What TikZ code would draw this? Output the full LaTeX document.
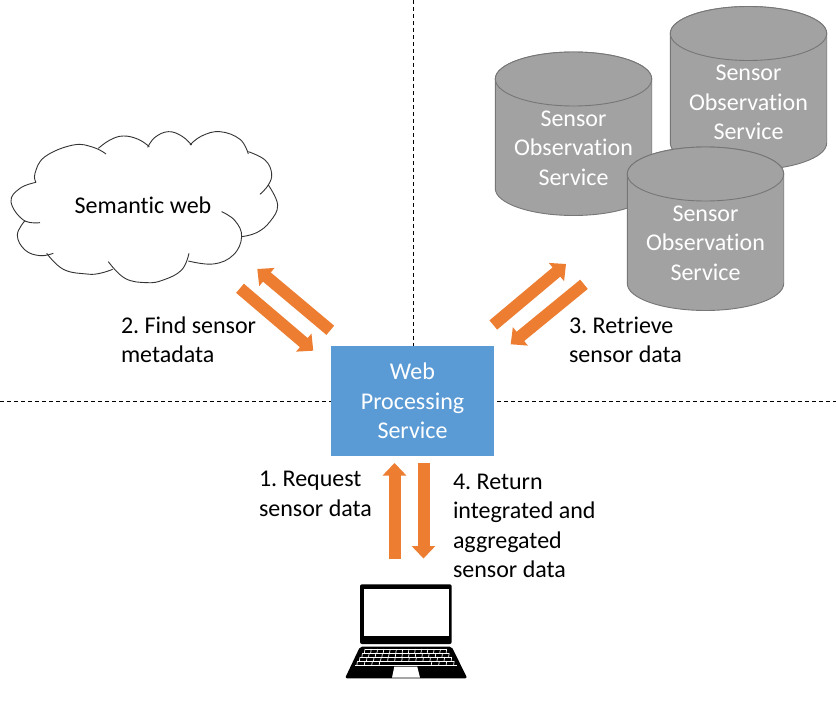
\documentclass[tikz,border=0pt]{standalone}
\usepackage{fontspec}
\setmainfont[Ligatures=NoCommon]{Carlito}
\usetikzlibrary{arrows.meta}
\definecolor{wpsblue}{HTML}{5B9BD5}
\definecolor{flow}{HTML}{ED7D31}
\definecolor{cangray}{HTML}{A2A2A2}
\definecolor{canedge}{HTML}{767676}
\tikzset{
  txt/.style={font=\frenchspacing\fontsize{24}{29.3}\selectfont,inner sep=0pt,outer sep=0pt},
  lbl/.style={txt,anchor=west,align=left},
  svccan/.style={draw=canedge,line width=0.9,fill=cangray},
  svctxt/.style={txt,text=white,align=center},
  wps/.style={txt,fill=wpsblue,text=white,align=center,minimum width=163,minimum height=110},
  flowarrow/.style={draw=flow,line width=12,-{Triangle[length=12.5,width=23,fill=flow]}},
  lobe/.style={line width=0.9,draw=black!80},
  divider/.style={line width=0.9,dash pattern=on 4 off 3}
}
\begin{document}
\begin{tikzpicture}[x=1pt,y=-1pt]
\useasboundingbox (0,0) rectangle (836,703);
\fill[white] (0,0) rectangle (836,703);
% dividers
\coordinate (vtop) at (413.5,0);
\coordinate (vend) at (413.5,346);
\coordinate (hleft) at (0,401.5);
\coordinate (hright) at (836,401.5);
\draw[divider] (vtop)--(vend);
\draw[divider] (hleft)--(hright);
% cloud
\begin{scope}[shift={(0,130)},x=0.3333pt,y=-0.3333pt]
\foreach \pts in {
  {(108,157) (105,130) (135,80) (220,45) (280,52) (318,72)},
  {(295,55) (330,30) (370,18) (415,28) (448,50)},
  {(443,52) (465,22) (505,5) (545,18) (575,45)},
  {(570,45) (605,18) (660,5) (720,28) (745,72)},
  {(745,65) (795,90) (815,130) (805,165) (780,193)},
  {(805,165) (833,225) (810,275) (770,308) (725,320)},
  {(665,245) (705,272) (725,320) (700,375) (640,402) (565,393)},
  {(567,370) (545,420) (490,450) (440,458) (375,445) (325,395)},
  {(338,418) (300,430) (260,432) (190,418) (140,370)},
  {(160,370) (120,377) (75,360) (52,315) (75,272)},
  {(120,278) (70,270) (33,215) (60,175) (108,157)}}
  \draw[lobe] plot[smooth,tension=0.7] coordinates \pts;
\end{scope}
\node[txt] (web) at (143,205) {Semantic web};
% sensor services
\foreach \tag/\cx/\cy in {b/748.5/33.5,a/573.5/79,c/705.5/174}{
  \draw[svccan] (\cx-78.2,\cy)--++(0,109.5)
    arc[start angle=180,end angle=0,x radius=78.2,y radius=27]--++(0,-109.5)
    arc[start angle=0,end angle=-180,x radius=78.2,y radius=27]--cycle;
  \draw[svccan] (\cx,\cy) ellipse[x radius=78.2,y radius=27];
  \node[svctxt] (sos\tag) at (\cx,\cy+69) {Sensor\\Observation\\Service};
}
% processing service
\node[wps] (proc) at (412.5,401) {Web\\Processing\\Service};
% flows
\coordinate (a1) at (394.5,559);
\coordinate (a2) at (394.5,463);
\coordinate (b1) at (423.5,463);
\coordinate (b2) at (423.5,558.5);
\coordinate (c1) at (330.3,330.3);
\coordinate (c2) at (257.3,269);
\coordinate (d1) at (240,288.3);
\coordinate (d2) at (313.3,350.7);
\coordinate (e1) at (493.3,325);
\coordinate (e2) at (566,264);
\coordinate (f1) at (584,284.3);
\coordinate (f2) at (510.7,344.3);
\draw[flowarrow] (a1)--(a2);
\draw[flowarrow] (b1)--(b2);
\draw[flowarrow] (c1)--(c2);
\draw[flowarrow] (d1)--(d2);
\draw[flowarrow] (e1)--(e2);
\draw[flowarrow] (f1)--(f2);
% labels
\node[lbl] (find) at (121,340) {2. Find sensor\\metadata};
\node[lbl] (get) at (569,340) {3. Retrieve\\sensor data};
\node[lbl] (ask) at (259,494) {1. Request\\sensor data};
\node[lbl] (back) at (453,526) {4. Return\\integrated and\\aggregated\\sensor data};
% laptop
\fill[black,rounded corners=2] (360,584.3) rectangle (451.7,644);
\fill[white] (363.5,589.3) rectangle (448.5,636);
\fill[black,rounded corners=2] (360,646.7)--(451.7,646.7)--(467.3,678.3)--(345,678.3)--cycle;
\fill[white] (394.3,666.7)--(417.3,666.7)--(420,677.7)--(392,677.7)--cycle;
\foreach \r in {0,1,2,3,4}{
  \pgfmathsetmacro{\yy}{649+4*\r}
  \pgfmathsetmacro{\xl}{365-2.5*\r}
  \pgfmathsetmacro{\xr}{446.7+2.5*\r}
  \draw[white,line width=0.7] (\xl,\yy)--(\xr,\yy);
}
\foreach \r in {0,1,2}{
  \foreach \k in {0,...,13}{
    \pgfmathsetmacro{\yy}{649+4*\r}
    \pgfmathsetmacro{\xl}{365-2.5*\r+(81.7+5*\r)*\k/13}
    \draw[white,line width=0.7] (\xl,\yy)--++(-0.6,4);
  }
}
\foreach \k in {0,1,2,3,10,11,12,13}{
  \pgfmathsetmacro{\xl}{357.5+96.7*\k/13}
  \draw[white,line width=0.7] (\xl,661)--++(-0.6,4);
}
\end{tikzpicture}
\end{document}
